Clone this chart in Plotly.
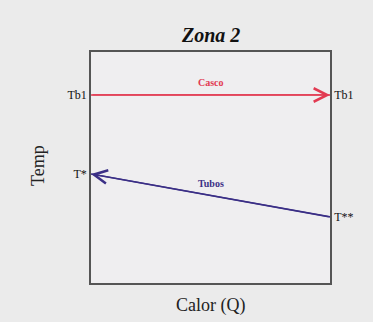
import plotly.graph_objects as go

# Heat (Q) positions and temperatures for zone 2
calor = [0, 1]
temp_casco = [0.814, 0.814]   # Tb1 -> Tb1
temp_tubos = [0.472, 0.286]   # T* <- T**
left_labels = ["T*", "Tb1"]
left_vals = [0.472, 0.814]
right_labels = ["T**", "Tb1"]
right_vals = [0.286, 0.814]

RED = "#e23a52"
BLUE = "#3b2f86"
SERIF = "Liberation Serif"

fig = go.Figure()
fig.add_trace(go.Scatter(x=calor, y=temp_casco, mode="lines", name="Casco",
                         line=dict(color=RED, width=1.6), hoverinfo="skip"))
fig.add_trace(go.Scatter(x=calor, y=temp_tubos, mode="lines", name="Tubos",
                         line=dict(color=BLUE, width=1.6), hoverinfo="skip"))
# dummy trace so the right-hand axis is drawn
fig.add_trace(go.Scatter(x=calor, y=temp_tubos, yaxis="y2", mode="lines",
                         line=dict(width=0), hoverinfo="skip", showlegend=False))

# arrow heads: casco goes left->right, tubos goes right->left
fig.add_annotation(x=calor[1], y=temp_casco[1], ax=calor[0], ay=temp_casco[0],
                   xref="x", yref="y", axref="x", ayref="y", text="",
                   showarrow=True, arrowhead=5, arrowsize=2.2, arrowwidth=1.2,
                   arrowcolor=RED)
fig.add_annotation(x=calor[0], y=temp_tubos[0], ax=calor[1], ay=temp_tubos[1],
                   xref="x", yref="y", axref="x", ayref="y", text="",
                   showarrow=True, arrowhead=5, arrowsize=2.2, arrowwidth=1.2,
                   arrowcolor=BLUE)

fig.add_annotation(x=0.5, y=temp_casco[0], yshift=12, text="<b>Casco</b>",
                   showarrow=False, font=dict(family=SERIF, size=10, color=RED))
fig.add_annotation(x=0.5, y=(temp_tubos[0] + temp_tubos[1]) / 2, yshift=12,
                   text="<b>Tubos</b>", showarrow=False,
                   font=dict(family=SERIF, size=10, color=BLUE))

fig.add_annotation(xref="paper", yref="paper", x=0.5, y=1.074,
                   xanchor="center", yanchor="middle",
                   text="<b><i>Zona 2</i></b>", showarrow=False,
                   font=dict(family=SERIF, size=20, color="#111"))
fig.add_annotation(xref="paper", yref="paper", x=-0.222, y=0.511,
                   xanchor="center", yanchor="middle",
                   text="Temp", textangle=-90, showarrow=False,
                   font=dict(family=SERIF, size=18, color="#222"))
fig.add_annotation(xref="paper", yref="paper", x=0.5, y=-0.097,
                   xanchor="center", yanchor="middle",
                   text="Calor (Q)", showarrow=False,
                   font=dict(family=SERIF, size=18, color="#222"))

axis_line = dict(showline=True, linecolor="#555", linewidth=1.5,
                 showgrid=False, zeroline=False, ticks="")
tick_font = dict(family=SERIF, size=12, color="#111")
fig.update_layout(
    width=373, height=322,
    margin=dict(l=91, r=43, t=52, b=39),
    paper_bgcolor="#ebebeb", plot_bgcolor="#efeef0",
    showlegend=False,
    xaxis=dict(range=[0, 1], showticklabels=False, mirror=True, **axis_line),
    yaxis=dict(range=[0, 1], tickvals=left_vals, ticktext=left_labels,
               tickfont=tick_font, mirror=True, **axis_line),
    yaxis2=dict(range=[0, 1], overlaying="y", side="right",
                tickvals=right_vals, ticktext=right_labels,
                tickfont=tick_font, **axis_line),
)

fig.write_html("out.html", config={"displayModeBar": False},
               post_script="document.body.style.margin='0';"
                           "document.body.style.background='#ebebeb';")
